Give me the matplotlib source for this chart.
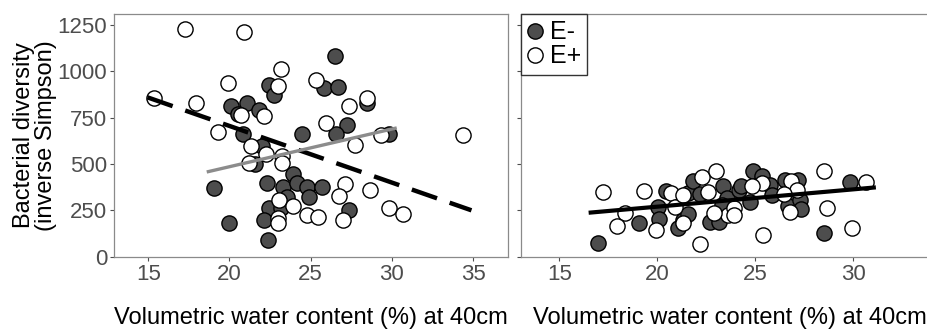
import matplotlib
matplotlib.use("Agg")
import matplotlib.pyplot as plt
from matplotlib.lines import Line2D

plt.rcParams["font.family"] = ["Liberation Sans", "DejaVu Sans"]

# ---------------- data ----------------
left_em_x = [26.52, 22.45, 22.74, 25.84, 26.66, 28.49, 20.07, 21.06, 20.5, 21.82, 27.22,
             20.85, 24.49, 26.58, 29.85, 21.98, 21.6, 23.9, 22.33, 19.06, 23.32, 24.18,
             24.79, 25.68, 23.57, 24.92, 22.44, 23.15, 27.33, 19.97, 22.15, 22.4]
left_em_y = [1083, 927, 873, 909, 915, 832, 814, 829, 771, 789, 710,
             662, 662, 664, 662, 599, 500, 447, 399, 368, 377, 395,
             377, 377, 323, 321, 265, 264, 250, 183, 196, 89]

left_ep_x = [17.26, 20.89, 23.15, 19.89, 23.0, 25.31, 15.37, 17.92, 28.49, 27.34, 20.71,
             22.15, 25.92, 19.31, 29.35, 34.35, 27.73, 21.3, 22.26, 23.25, 23.25, 21.21,
             27.12, 26.75, 28.66, 23.02, 23.93, 24.8, 25.44, 22.97, 22.97, 27.0, 29.85, 30.67]
left_ep_y = [1227, 1214, 1013, 940, 922, 954, 854, 829, 854, 811, 766,
             757, 721, 671, 655, 656, 604, 598, 553, 546, 506, 506,
             393, 326, 358, 308, 272, 224, 214, 210, 183, 200, 261, 228]

right_em_x = [16.99, 19.07, 20.02, 20.1, 20.46, 21.05, 21.29, 21.55, 21.57, 21.82, 22.18,
              22.7, 23.16, 23.16, 23.33, 23.58, 24.17, 24.25, 24.74, 24.9, 25.32, 25.75,
              25.84, 26.5, 26.6, 26.67, 27.19, 27.28, 27.33, 28.51, 29.83, 23.28]
right_em_y = [73, 183, 270, 205, 353, 154, 196, 228, 342, 407, 340,
              185, 243, 187, 380, 315, 362, 380, 297, 461, 434, 389,
              333, 416, 326, 274, 416, 305, 259, 125, 402, 281]

right_ep_x = [17.24, 19.34, 18.33, 17.93, 19.92, 20.68, 20.92, 22.27, 23.0, 22.58, 22.16,
              21.3, 21.3, 23.59, 22.9, 23.93, 23.93, 25.33, 24.82, 25.41, 26.82, 26.77,
              27.15, 28.5, 28.65, 29.94, 30.67, 26.48]
right_ep_y = [348, 356, 236, 165, 143, 342, 270, 432, 464, 350, 66,
              183, 335, 227, 233, 260, 225, 396, 380, 115, 408, 240,
              358, 461, 263, 152, 404, 339]

# fitted lines (end points)
left_ep_fit_x = [14.95, 34.9]
left_ep_fit_y = [860, 250]
left_em_fit_x = [18.6, 30.3]
left_em_fit_y = [457, 695]
right_fit_x = [16.5, 31.15]
right_fit_y = [237, 374]

y_ticks = [0, 250, 500, 750, 1000, 1250]
x_ticks_left = [15, 20, 25, 30, 35]
x_ticks_right = [15, 20, 25, 30]
xlabel = "Volumetric water content (%) at 40cm"
ylabel = "Bacterial diversity\n(inverse Simpson)"
legend_labels = ["E-", "E+"]

# ---------------- style ----------------
FILL = "#4d4d4d"
TICKC = "#4d4d4d"
SPINEC = "#8a8a8a"
S = 120

fig = plt.figure(figsize=(9.28, 3.31), dpi=100)
W, H = 928, 331
axL = fig.add_axes([114 / W, (H - 257) / H, 394 / W, 243 / H])
axR = fig.add_axes([521 / W, (H - 257) / H, 417.6 / W, 243 / H])


def style(ax, xt, xlim, show_y):
    ax.set_xlim(*xlim)
    ax.set_ylim(-2, 1310)
    ax.set_xticks(xt)
    ax.set_yticks(y_ticks)
    ax.tick_params(direction="out", length=3, width=0.8, color=TICKC,
                   labelcolor=TICKC, labelsize=16, pad=2)
    if not show_y:
        ax.tick_params(axis="y", labelleft=False)
    for sp in ax.spines.values():
        sp.set_color(SPINEC)
        sp.set_linewidth(0.9)
    ax.set_xlabel(xlabel, fontsize=17, color="black", labelpad=16)


style(axL, x_ticks_left, (12.89, 37.15), True)
style(axR, x_ticks_right, (13.05, 34.35), False)
axL.set_ylabel(ylabel, fontsize=17, color="black", labelpad=0, linespacing=1.0)

for ax, ex, ey, px, py in [(axL, left_em_x, left_em_y, left_ep_x, left_ep_y),
                           (axR, right_em_x, right_em_y, right_ep_x, right_ep_y)]:
    ax.scatter(ex, ey, s=S, facecolor=FILL, edgecolor="black", linewidth=1.0, zorder=2)
    ax.scatter(px, py, s=S, facecolor="white", edgecolor="black", linewidth=1.0, zorder=2)

axL.plot(left_ep_fit_x, left_ep_fit_y, color="black", lw=3.2, ls=(0, (6, 3)),
         solid_capstyle="butt", dash_capstyle="butt", zorder=3)
axL.plot(left_em_fit_x, left_em_fit_y, color="#8c8c8c", lw=2.4, zorder=3,
         solid_capstyle="butt")
axR.plot(right_fit_x, right_fit_y, color="black", lw=3, zorder=3, solid_capstyle="butt")

handles = [Line2D([], [], ls="none", marker="o", markersize=11, markerfacecolor=FILL,
                  markeredgecolor="black", markeredgewidth=1.0),
           Line2D([], [], ls="none", marker="o", markersize=11, markerfacecolor="white",
                  markeredgecolor="black", markeredgewidth=1.0)]
leg = axR.legend(handles, legend_labels, loc="upper left", borderaxespad=0,
                 fontsize=18, handlelength=0.6, handletextpad=0.3, labelspacing=0.0,
                 borderpad=0.25, fancybox=False, framealpha=1, edgecolor="#333333")
leg.get_frame().set_linewidth(1.0)

fig.savefig("out.png", dpi=100)
